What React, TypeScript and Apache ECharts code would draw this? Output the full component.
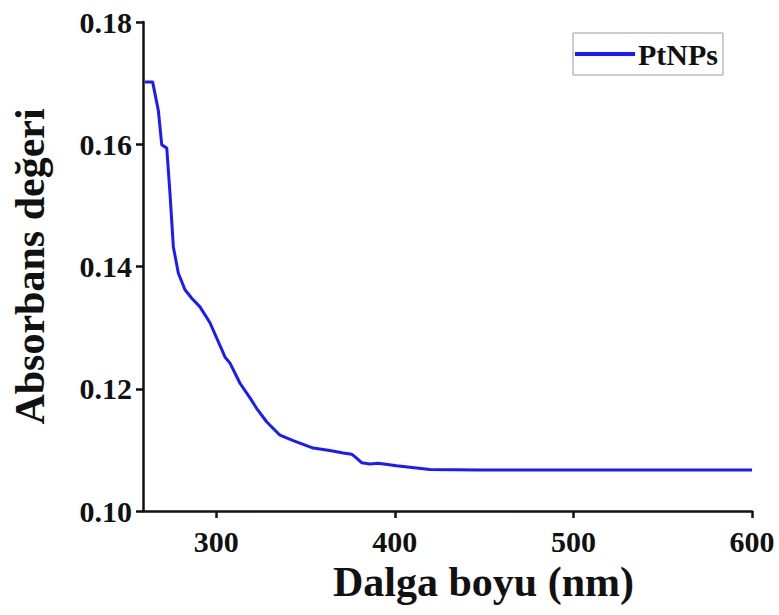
import React, { useEffect, useRef } from "react";
import * as echarts from "echarts";

const wavelength = [260.1, 264.4, 267.6, 269.5, 272.3, 274.1, 276.0, 278.8, 282.5, 286.3, 290.9, 296.5, 304.9, 307.7, 313.3, 318.9, 322.6, 328.2, 335.7, 343.1, 354.3, 363.6, 371.1, 375.8, 377.6, 381.4, 386.0, 390.7, 401.0, 419.6, 447.6, 500, 550, 600];
const absorbance = [0.1702, 0.1702, 0.1655, 0.1599, 0.1594, 0.152, 0.1432, 0.1389, 0.1362, 0.1348, 0.1334, 0.1308, 0.1252, 0.1242, 0.1209, 0.1185, 0.1168, 0.1146, 0.1124, 0.1115, 0.1103, 0.1099, 0.1095, 0.1093, 0.1089, 0.1079, 0.1077, 0.1078, 0.1074, 0.1068, 0.1067, 0.1067, 0.1067, 0.1067];
const xTicks = [300, 400, 500, 600];
const seriesName = "PtNPs";

const FONT = "'Liberation Serif', 'Times New Roman', serif";

export default function App() {
  const ref = useRef<HTMLDivElement>(null);
  useEffect(() => {
    if (!ref.current) return;
    const chart = echarts.init(ref.current, null, { renderer: "svg" });
    const data = wavelength.map((x, i) => [x, absorbance[i]]);
    chart.setOption({
      animation: false,
      backgroundColor: "#ffffff",
      grid: { left: 143, right: 27, top: 22, bottom: 104 },
      legend: {
        data: [seriesName],
        left: 573,
        top: 33,
        orient: "vertical",
        itemWidth: 60,
        itemHeight: 4,
        itemGap: 5,
        padding: [6, 5, 6, 2],
        borderColor: "#9a9a9a",
        borderWidth: 1,
        icon: "rect",
        textStyle: { fontFamily: FONT, fontWeight: "bold", fontSize: 30, color: "#111", padding: [0, 0, 0, -2] },
      },
      xAxis: {
        type: "value",
        min: 259,
        max: 600,
        name: "Dalga boyu (nm)",
        nameLocation: "middle",
        nameGap: 50,
        nameTextStyle: { fontFamily: FONT, fontWeight: "bold", fontSize: 42, color: "#111", padding: [0, 0, 0, 72] },
        axisLine: { show: true, lineStyle: { color: "#111", width: 2.5 } },
        axisTick: { show: true, customValues: xTicks, length: 7, lineStyle: { color: "#111", width: 2.5 } },
        axisLabel: { customValues: xTicks, margin: 15, fontFamily: FONT, fontWeight: "bold", fontSize: 30, color: "#111" },
        splitLine: { show: false },
      },
      yAxis: {
        type: "value",
        min: 0.1,
        max: 0.18,
        interval: 0.02,
        name: "Absorbans değeri",
        nameLocation: "middle",
        nameGap: 92,
        nameTextStyle: { fontFamily: FONT, fontWeight: "bold", fontSize: 42, color: "#111" },
        axisLine: { show: true, lineStyle: { color: "#111", width: 2.5 } },
        axisTick: { show: true, length: 7, lineStyle: { color: "#111", width: 2.5 } },
        axisLabel: { margin: 11, fontFamily: FONT, fontWeight: "bold", fontSize: 30, color: "#111", formatter: (v: number) => v.toFixed(2) },
        splitLine: { show: false },
      },
      series: [
        {
          name: seriesName,
          type: "line",
          data,
          showSymbol: false,
          symbol: "none",
          smooth: false,
          lineStyle: { color: "#1a1aff", width: 3 },
          itemStyle: { color: "#1a1aff" },
        },
      ],
    });
    return () => chart.dispose();
  }, []);
  return <div ref={ref} style={{ width: 779, height: 615, position: "absolute", left: 0, top: 0 }} />;
}
